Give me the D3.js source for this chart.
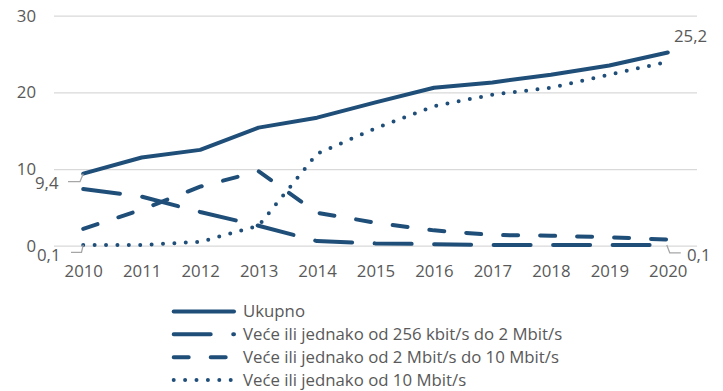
<!DOCTYPE html>
<html>
<head>
<meta charset="utf-8">
<script src="https://cdn.jsdelivr.net/npm/d3@7"></script>
<style>
  html, body { margin: 0; padding: 0; background: #ffffff; }
  svg { display: block; font-family: "Open Sans", "Noto Sans", sans-serif; }
</style>
</head>
<body>
<svg id="chart" width="723" height="391"></svg>
<script>
// Broadband subscriptions by speed class, 2010–2020
const years = ["2010","2011","2012","2013","2014","2015","2016","2017","2018","2019","2020"];
const ukupno   = [9.4, 11.5, 12.5, 15.4, 16.7, 18.7, 20.6, 21.3, 22.3, 23.5, 25.2];
const od256do2 = [7.4, 6.4, 4.4, 2.6, 0.6, 0.3, 0.2, 0.1, 0.1, 0.1, 0.1];
const od2do10  = [2.2, 4.7, 7.7, 9.7, 4.3, 3.0, 2.0, 1.4, 1.3, 1.1, 0.8];
const od10     = [0.1, 0.1, 0.5, 2.6, 12.0, 15.3, 18.2, 19.7, 20.6, 22.3, 24.0];
const yTicks   = [0, 10, 20, 30];
const seriesNames = [
  "Ukupno",
  "Veće ili jednako od 256 kbit/s do 2 Mbit/s",
  "Veće ili jednako od 2 Mbit/s do 10 Mbit/s",
  "Veće ili jednako od 10 Mbit/s"
];

const navy = "#1f4e79";
const textCol = "#595959";
const fontSize = 16.8;
const dashes = ["none", "37 22.5", "15 22", "0 11.4"];
const seriesValues = [ukupno, od256do2, od2do10, od10];

const svg = d3.select("#chart");
const plotLeft = 54, plotRight = 697, plotTop = 15.7, plotBottom = 245.7;

const x = d3.scalePoint().domain(years).range([plotLeft, plotRight]).padding(0.5);
const y = d3.scaleLinear().domain([0, 30]).range([plotBottom, plotTop]);

// gridlines + y labels
const yAxis = svg.append("g")
  .attr("transform", `translate(${plotLeft},0)`)
  .call(d3.axisLeft(y).tickValues(yTicks).tickSize(-(plotRight - plotLeft)).tickPadding(18).tickFormat(d3.format("d")));
yAxis.select(".domain").remove();
yAxis.selectAll(".tick line").attr("stroke", "#d9d9d9").attr("stroke-width", 1.3);
yAxis.selectAll(".tick text").attr("fill", textCol).attr("font-size", fontSize).attr("font-family", "Open Sans");

// x labels
const xAxis = svg.append("g")
  .attr("transform", `translate(0,${plotBottom})`)
  .call(d3.axisBottom(x).tickSize(0).tickPadding(19.5));
xAxis.select(".domain").remove();
xAxis.selectAll(".tick text").attr("fill", textCol).attr("font-size", fontSize).attr("font-family", "Open Sans");

// series lines
const line = d3.line().x((d, i) => x(years[i])).y(d => y(d));
seriesValues.forEach((vals, k) => {
  svg.append("path")
    .datum(vals)
    .attr("d", line)
    .attr("fill", "none")
    .attr("stroke", navy)
    .attr("stroke-width", 4)
    .attr("stroke-linecap", "round")
    .attr("stroke-linejoin", "round")
    .attr("stroke-dasharray", dashes[k]);
});

// data labels with leader lines
const leader = (pts) => svg.append("polyline")
  .attr("points", pts.map(p => p.join(",")).join(" "))
  .attr("fill", "none").attr("stroke", "#a6a6a6").attr("stroke-width", 1.3);
const label = (tx, ty, txt) => svg.append("text")
  .attr("x", tx).attr("y", ty).attr("dy", "0.35em")
  .attr("fill", textCol).attr("font-size", fontSize).text(txt);

const x0 = x(years[0]), xN = x(years[years.length - 1]);
leader([[68, y(ukupno[0]) + 8], [80, y(ukupno[0]) + 8], [x0, y(ukupno[0])]]);
label(35, y(ukupno[0]) + 9, "9,4");
leader([[71, y(od10[0]) + 7.5], [81.5, y(od10[0]) + 7.5], [x0, y(od10[0])]]);
label(37, y(od10[0]) + 10, "0,1");
leader([[xN - 1, y(od256do2[10])], [xN + 2, y(od256do2[10]) + 8], [xN + 13, y(od256do2[10]) + 8]]);
label(687, y(od256do2[10]) + 10, "0,1");
label(674, y(ukupno[10]) - 16, "25,2");

// legend
const legend = svg.append("g");
const rowY = [311.5, 334.3, 357.3, 380];
seriesNames.forEach((name, k) => {
  legend.append("line")
    .attr("x1", 173.7).attr("x2", 234).attr("y1", rowY[k]).attr("y2", rowY[k])
    .attr("stroke", navy).attr("stroke-width", 4)
    .attr("stroke-linecap", "round")
    .attr("stroke-dasharray", dashes[k]);
  legend.append("text")
    .attr("x", 243).attr("y", rowY[k]).attr("dy", "0.35em")
    .attr("fill", textCol).attr("font-size", fontSize).text(name);
});
</script>
</body>
</html>
